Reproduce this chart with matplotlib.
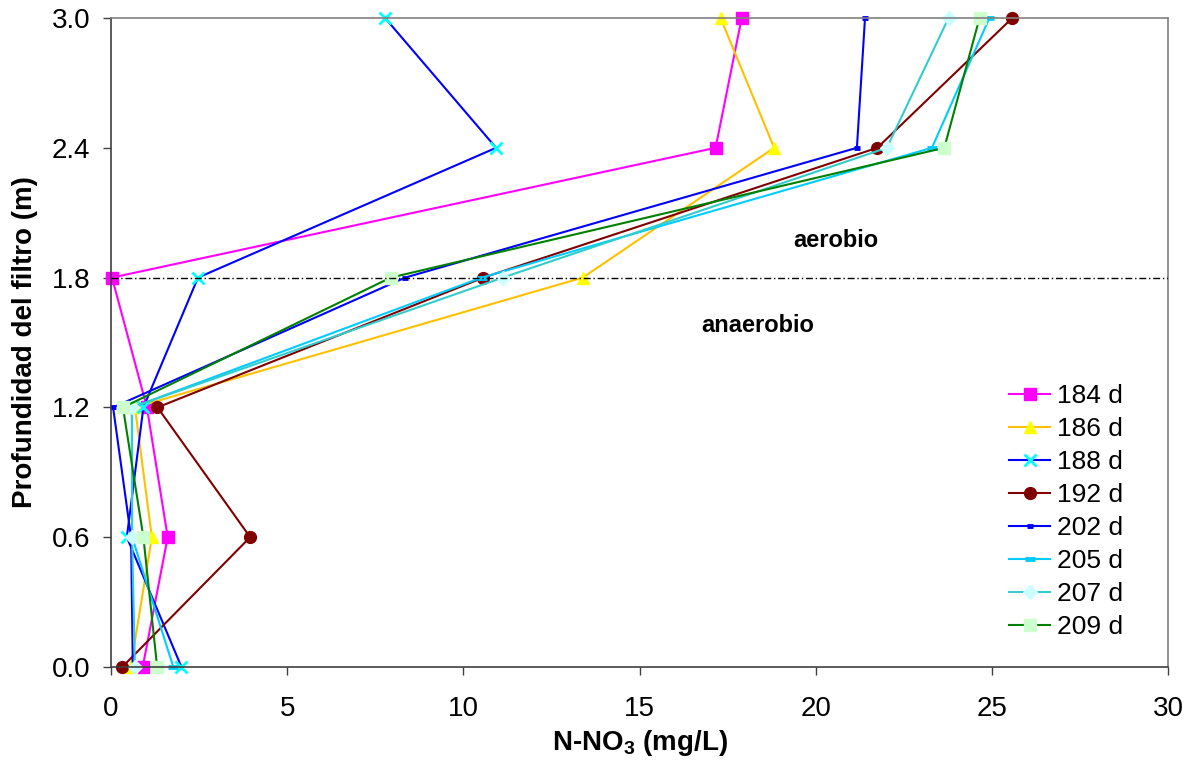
import matplotlib
matplotlib.use("Agg")
import matplotlib.pyplot as plt

plt.rcParams["font.family"] = ["Liberation Sans", "DejaVu Sans"]
plt.rcParams["mathtext.fontset"] = "custom"
plt.rcParams["mathtext.rm"] = "Liberation Sans"
plt.rcParams["mathtext.bf"] = "Liberation Sans:bold"

depth = [0.0, 0.6, 1.2, 1.8, 2.4, 3.0]
labels = ["184 d", "186 d", "188 d", "192 d", "202 d", "205 d", "207 d", "209 d"]
d184 = [0.90, 1.61, 1.02, 0.03, 17.16, 17.90]
d186 = [0.56, 1.16, 0.68, 13.39, 18.82, 17.30]
d188 = [2.00, 0.45, 0.92, 2.47, 10.93, 7.78]
d192 = [0.32, 3.95, 1.32, 10.57, 21.75, 25.58]
d202 = [0.62, 0.57, 0.06, 8.35, 21.17, 21.40]
d205 = [1.77, 0.60, 0.60, 10.52, 23.30, 24.93]
d207 = [0.68, 0.60, 0.59, 11.12, 22.02, 23.77]
d209 = [1.31, 0.92, 0.34, 7.94, 23.65, 24.65]
series = [d184, d186, d188, d192, d202, d205, d207, d209]

# line colour, marker, marker face, marker edge, marker size
styles = [
    ("#FF00FF", "s", "#FF00FF", "#FF00FF", 8),
    ("#FFC000", "^", "#FFFF00", "#FFFF00", 9),
    ("#0000FF", "x", "#00FFFF", "#00FFFF", 9),
    ("#800000", "o", "#800000", "#800000", 8.5),
    ("#0000FF", "_", "#0000FF", "#0000FF", 5),
    ("#00CCFF", "_", "#00CCFF", "#00CCFF", 7),
    ("#33CCCC", "D", "#CCFFFF", "#CCFFFF", 7),
    ("#008000", "s", "#CCFFCC", "#CCFFCC", 8.5),
]

fig = plt.figure(figsize=(11.92, 7.6), dpi=100)
ax = fig.add_axes([0.0931, 0.1224, 0.8868, 0.8539])

for vals, lab, (lc, mk, mf, me, ms) in zip(series, labels, styles):
    mew = 2 if mk == "x" else (3.5 if mk == "_" else 1)
    ax.plot(vals, depth, color=lc, lw=1.5, marker=mk, markersize=ms,
            markerfacecolor=mf, markeredgecolor=me, markeredgewidth=mew,
            label=lab, clip_on=False)

ax.axhline(1.8, color="black", lw=1, linestyle=(0, (5, 2, 1, 2)), zorder=5)

ax.text(20.56, 1.97, "aerobio", ha="center", va="center",
        fontsize=17, fontweight="bold")
ax.text(18.35, 1.58, "anaerobio", ha="center", va="center",
        fontsize=17, fontweight="bold")

ax.set_xlim(0, 30)
ax.set_ylim(0, 3.0)
ax.set_xticks([0, 5, 10, 15, 20, 25, 30])
ax.set_yticks(depth)
ax.set_yticklabels([f"{v:.1f}" for v in depth])
ax.tick_params(direction="out", length=6, width=1, labelsize=20,
               colors="#404040", labelcolor="black")
ax.tick_params(axis="x", pad=15)
ax.tick_params(axis="y", pad=9)
ax.set_xlabel("N-NO$_\\mathbf{3}$ (mg/L)", fontsize=20, fontweight="bold",
              labelpad=4)
ax.set_ylabel("Profundidad del filtro (m)", fontsize=20, fontweight="bold",
              labelpad=10)

for s in ["left", "bottom"]:
    ax.spines[s].set_color("#404040")
    ax.spines[s].set_linewidth(1.2)
for s in ["top", "right"]:
    ax.spines[s].set_color("#808080")
    ax.spines[s].set_linewidth(1.2)

ax.legend(loc="center left", bbox_to_anchor=(0.850, 0.239), frameon=False,
          fontsize=19, handlelength=1.52, handletextpad=0.27,
          labelspacing=0.34, borderpad=0, borderaxespad=0)

fig.savefig("out.png", dpi=100)
